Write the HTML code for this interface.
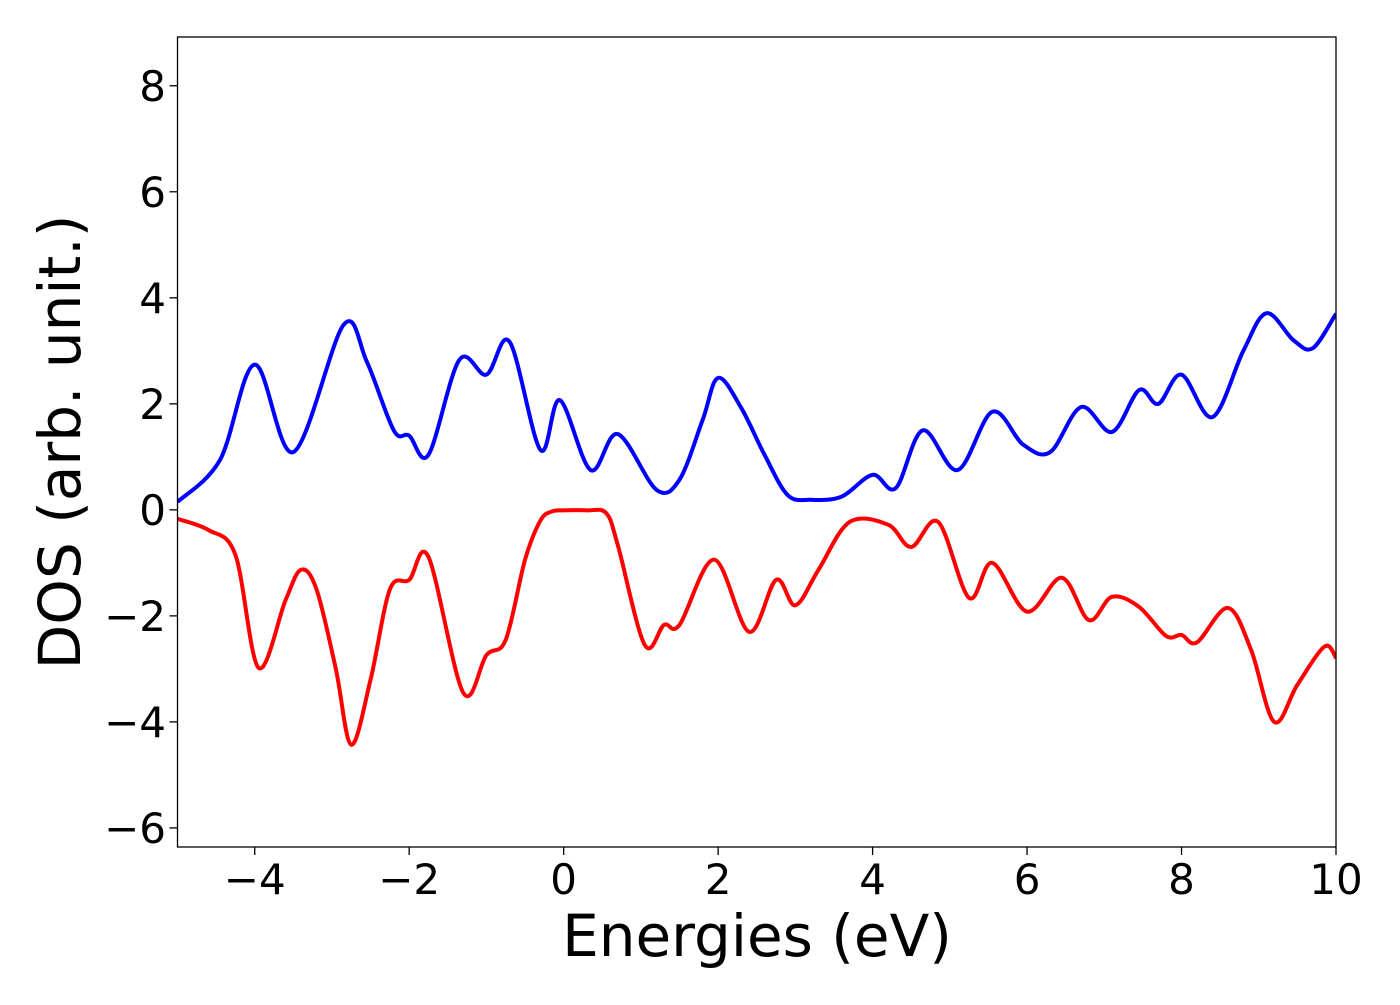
<!DOCTYPE html>
<html><head><meta charset="utf-8"><style>
html,body{margin:0;padding:0;background:#fff;}
svg text{font-family:"DejaVu Sans","Liberation Sans",sans-serif;fill:#000;}
</style></head><body>
<svg id="chart" width="1400" height="1000" xmlns="http://www.w3.org/2000/svg">
<rect width="1400" height="1000" fill="#fff"/>
<g id="plot"></g>
<g id="axes"></g>
<text x="757" y="956" font-size="58" text-anchor="middle">Energies (eV)</text>
<text transform="translate(80,442) rotate(-90)" font-size="58" text-anchor="middle">DOS (arb. unit.)</text>
</svg>
<script>
const upX=[-5,-4.45,-4.0,-3.5,-2.85,-2.55,-2.2,-2.0,-1.75,-1.35,-1.0,-0.7,-0.3,-0.05,0.35,0.7,1.2,1.5,1.8,2.0,2.3,2.6,2.9,3.2,3.6,4.0,4.3,4.65,5.1,5.55,5.95,6.3,6.7,7.1,7.45,7.7,8.0,8.4,8.8,9.1,9.45,9.7,10.0];
const upY=[0.15,0.94,2.74,1.09,3.49,2.8,1.5,1.4,1.04,2.83,2.55,3.17,1.13,2.07,0.75,1.43,0.38,0.57,1.7,2.49,1.92,1.04,0.28,0.19,0.25,0.66,0.41,1.5,0.75,1.85,1.23,1.09,1.94,1.47,2.26,2.0,2.55,1.75,3.0,3.71,3.2,3.05,3.7];
const dnX=[-5,-4.6,-4.25,-3.95,-3.6,-3.4,-3.2,-2.95,-2.75,-2.5,-2.25,-2.0,-1.75,-1.3,-1.0,-0.75,-0.5,-0.3,-0.15,0,0.3,0.55,0.7,1.05,1.3,1.5,1.95,2.4,2.75,3.0,3.3,3.7,4.2,4.5,4.85,5.25,5.55,6.0,6.45,6.8,7.1,7.45,7.8,8.0,8.2,8.6,8.9,9.2,9.5,9.85,10.0];
const dnY=[-0.17,-0.38,-0.85,-2.98,-1.7,-1.13,-1.5,-3.0,-4.43,-3.2,-1.5,-1.32,-0.89,-3.45,-2.74,-2.45,-0.94,-0.2,-0.03,-0.01,-0.01,-0.06,-0.66,-2.55,-2.17,-2.17,-0.94,-2.3,-1.32,-1.8,-1.13,-0.23,-0.28,-0.7,-0.23,-1.66,-1.0,-1.92,-1.28,-2.08,-1.64,-1.83,-2.38,-2.36,-2.5,-1.85,-2.64,-4.0,-3.3,-2.58,-2.79];
const xTicks=[-4,-2,0,2,4,6,8,10];
const yTicks=[-6,-4,-2,0,2,4,6,8];
const X0=177.5,X1=1336,Y0=37,Y1=847;
const xmin=-5,xmax=10,ymin=-6.36,ymax=8.92;
const sx=v=>X0+(v-xmin)/(xmax-xmin)*(X1-X0);
const sy=v=>Y1-(v-ymin)/(ymax-ymin)*(Y1-Y0);
const NS='http://www.w3.org/2000/svg';
function pathFrom(xs,ys){
  const p=xs.map((x,i)=>[sx(x),sy(ys[i])]);
  let d='M'+p[0][0]+','+p[0][1];
  for(let i=0;i<p.length-1;i++){
    const a=p[Math.max(i-1,0)],b=p[i],c=p[i+1],e=p[Math.min(i+2,p.length-1)];
    const c1=[b[0]+(c[0]-a[0])/6,b[1]+(c[1]-a[1])/6];
    const c2=[c[0]-(e[0]-b[0])/6,c[1]-(e[1]-b[1])/6];
    d+=' C'+c1[0]+','+c1[1]+' '+c2[0]+','+c2[1]+' '+c[0]+','+c[1];
  }
  return d;
}
const plot=document.getElementById('plot');
const clip=document.createElementNS(NS,'clipPath');clip.id='cp';
const cr=document.createElementNS(NS,'rect');
cr.setAttribute('x',X0);cr.setAttribute('y',Y0);cr.setAttribute('width',X1-X0);cr.setAttribute('height',Y1-Y0);
clip.appendChild(cr);plot.appendChild(clip);
const l1=document.createElementNS(NS,'path');
l1.setAttribute('d',pathFrom(upX,upY));l1.setAttribute('fill','none');l1.setAttribute('stroke','#0000ff');l1.setAttribute('stroke-width','4');l1.setAttribute('clip-path','url(#cp)');


plot.appendChild(l1);
const l2=document.createElementNS(NS,'path');
l2.setAttribute('d',pathFrom(dnX,dnY));l2.setAttribute('fill','none');l2.setAttribute('stroke','#ff0000');l2.setAttribute('stroke-width','4');l2.setAttribute('clip-path','url(#cp)');


plot.appendChild(l2);
const axes=document.getElementById('axes');
const fr=document.createElementNS(NS,'rect');
fr.setAttribute('x',X0);fr.setAttribute('y',Y0);fr.setAttribute('width',X1-X0);fr.setAttribute('height',Y1-Y0);
fr.setAttribute('fill','none');fr.setAttribute('stroke','#000');fr.setAttribute('stroke-width','1.3');


axes.appendChild(fr);
xTicks.forEach(v=>{
  const t=document.createElementNS(NS,'line');
  t.setAttribute('x1',sx(v));t.setAttribute('x2',sx(v));t.setAttribute('y1',Y1);t.setAttribute('y2',Y1+8);t.setAttribute('stroke','#000');t.setAttribute('stroke-width','1.3');
  
  
  axes.appendChild(t);
  const s=document.createElementNS(NS,'text');
  s.setAttribute('x',sx(v));s.setAttribute('y',894);s.setAttribute('font-size','42');s.setAttribute('text-anchor','middle');
  s.textContent=(v<0?'\u2212'+(-v):String(v));
  
  
  axes.appendChild(s);
});
yTicks.forEach(v=>{
  const t=document.createElementNS(NS,'line');
  t.setAttribute('x1',X0-8);t.setAttribute('x2',X0);t.setAttribute('y1',sy(v));t.setAttribute('y2',sy(v));t.setAttribute('stroke','#000');t.setAttribute('stroke-width','1.3');
  
  
  axes.appendChild(t);
  const s=document.createElementNS(NS,'text');
  s.setAttribute('x',166);s.setAttribute('y',sy(v)+15);s.setAttribute('font-size','42');s.setAttribute('text-anchor','end');
  s.textContent=(v<0?'\u2212'+(-v):String(v));
  
  
  axes.appendChild(s);
});
</script>
</body></html>
